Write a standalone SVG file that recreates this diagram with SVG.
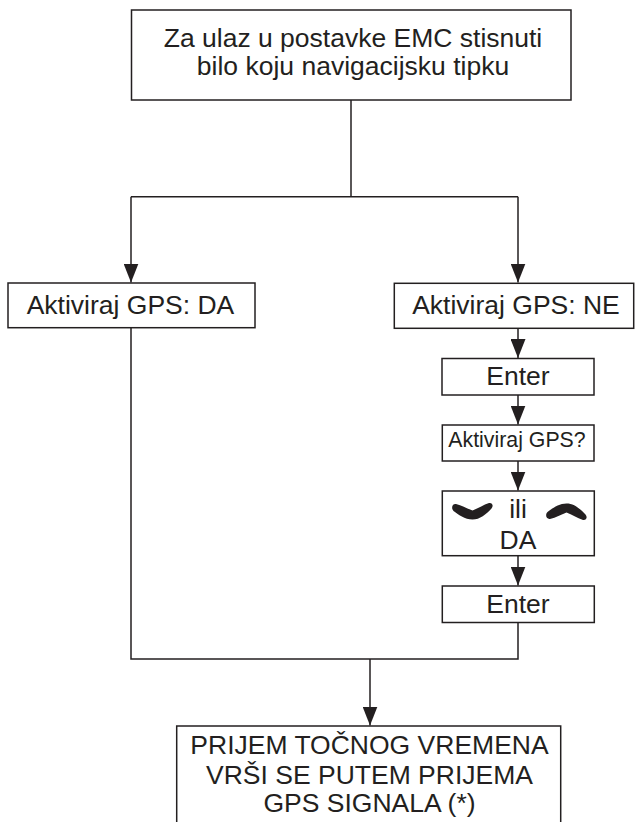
<svg xmlns="http://www.w3.org/2000/svg" width="636" height="822" viewBox="0 0 636 822">
  <defs>
    <style>
      .box { fill: #ffffff; stroke: #231f20; stroke-width: 1.5; }
      .lbl { font-family: "Liberation Sans", Arial, sans-serif; fill: #231f20; text-anchor: middle; font-size: 26.5px; }
      .small { font-size: 21.3px; }
      .wire { fill: none; stroke: #231f20; stroke-width: 1.5; }
      .key { fill: #231f20; }
    </style>
    <marker id="arrow" markerUnits="userSpaceOnUse" markerWidth="19" markerHeight="15" refX="19" refY="7.5" orient="auto" viewBox="0 0 19 15">
      <path d="M0,0 L19,7.5 L0,15 Z" fill="#231f20"/>
    </marker>
    <!-- navigation key glyph: thick bent bar (down key) -->
    <path id="keyDown" d="M456,504 C462,505.5 467,508.5 472.5,510.5 C478,508.5 483,505 489,503 C492,502.3 494,505.5 491.5,508.5 C486,514.5 480,519.5 472.5,519.5 C465,519.5 458,514.5 453.5,511 C451,508.5 452,503.5 456,504 Z"/>
  </defs>

  <!-- connectors -->
  <g id="connectors">
    <path class="wire" d="M351,100 V196.7"/>
    <path class="wire" d="M131,196.7 H518"/>
    <path class="wire" d="M131,196.7 V282.5" marker-end="url(#arrow)"/>
    <path class="wire" d="M518,196.7 V282.5" marker-end="url(#arrow)"/>
    <path class="wire" d="M518,328.3 V358" marker-end="url(#arrow)"/>
    <path class="wire" d="M518,395 V424.5" marker-end="url(#arrow)"/>
    <path class="wire" d="M518,461 V490.5" marker-end="url(#arrow)"/>
    <path class="wire" d="M518,555.7 V585.5" marker-end="url(#arrow)"/>
    <path class="wire" d="M518,622.5 V659 H131 V327.7"/>
    <path class="wire" d="M370,659 V725.5" marker-end="url(#arrow)"/>
  </g>

  <g id="start">
    <rect class="box" x="131.5" y="10" width="439.5" height="90"/>
    <text class="lbl" x="353" y="47">Za ulaz u postavke EMC stisnuti</text>
    <text class="lbl" x="353" y="75">bilo koju navigacijsku tipku</text>
  </g>

  <g id="gps-da">
    <rect class="box" x="8" y="283" width="247" height="44.7"/>
    <text class="lbl" x="130.5" y="314">Aktiviraj GPS: DA</text>
  </g>

  <g id="gps-ne">
    <rect class="box" x="394.3" y="283.3" width="239.4" height="45"/>
    <text class="lbl" x="516" y="314">Aktiviraj GPS: NE</text>
  </g>

  <g id="enter-1">
    <rect class="box" x="442" y="358.5" width="152" height="36.5"/>
    <text class="lbl" x="518" y="385">Enter</text>
  </g>

  <g id="gps-question">
    <rect class="box" x="442.3" y="425" width="151.7" height="36"/>
    <text class="lbl small" x="517" y="446.5">Aktiviraj GPS?</text>
  </g>

  <g id="select-da">
    <rect class="box" x="442.3" y="491" width="152" height="64.7"/>
    <use href="#keyDown" class="key"/>
    <use href="#keyDown" class="key" transform="translate(94,1023) scale(1,-1)"/>
    <text class="lbl" x="518" y="518">ili</text>
    <text class="lbl" x="518" y="549">DA</text>
  </g>

  <g id="enter-2">
    <rect class="box" x="442.3" y="586" width="152" height="36.5"/>
    <text class="lbl" x="518" y="613">Enter</text>
  </g>

  <g id="result">
    <rect class="box" x="176.7" y="726" width="384" height="110"/>
    <text class="lbl" x="369.5" y="753.5">PRIJEM TOČNOG VREMENA</text>
    <text class="lbl" x="369.5" y="783.5">VRŠI SE PUTEM PRIJEMA</text>
    <text class="lbl" x="369.5" y="812">GPS SIGNALA (*)</text>
  </g>
</svg>
